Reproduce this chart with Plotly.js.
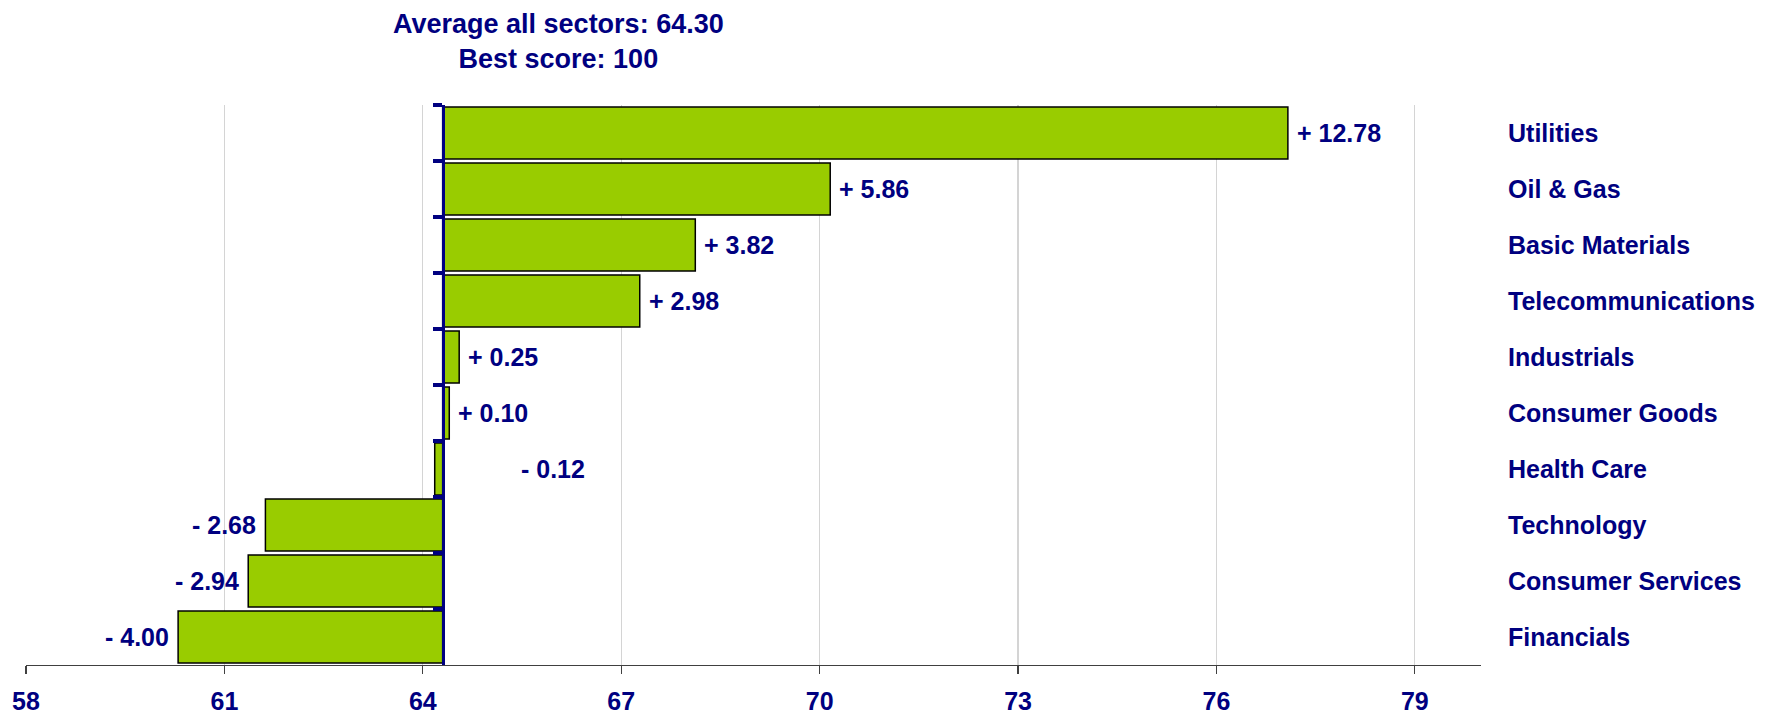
<!DOCTYPE html>
<html>
<head>
<meta charset="utf-8">
<script src="https://cdn.plot.ly/plotly-3.0.1.min.js"></script>
<style>html,body{margin:0;padding:0;background:#fff;}#chart{width:1773px;height:717px;}</style>
</head>
<body>
<div id="chart"></div>
<script>
// ---- data ----
const sectors = ["Utilities","Oil & Gas","Basic Materials","Telecommunications","Industrials",
                 "Consumer Goods","Health Care","Technology","Consumer Services","Financials"];
const deltas  = [12.78, 5.86, 3.82, 2.98, 0.25, 0.10, -0.12, -2.68, -2.94, -4.00];
const average = 64.30;
const bestScore = 100;
const xTicks = [58, 61, 64, 67, 70, 73, 76, 79];
const xMin = 58, xMax = 80;

const NAVY = "#000080";
const FONT = "Liberation Sans, Arial, sans-serif";

function fmt(d){ return (d >= 0 ? "+ " : "- ") + Math.abs(d).toFixed(2); }

const bars = {
  type: "bar", orientation: "h",
  y: sectors, x: deltas, base: average,
  marker: {color: "#99CC00", line: {color: "#000000", width: 1.5}},
  hoverinfo: "skip", showlegend: false
};
const axisHolder = {
  type: "scatter", mode: "markers", yaxis: "y2",
  y: sectors, x: sectors.map(() => average),
  marker: {opacity: 0}, hoverinfo: "skip", showlegend: false
};

const annotations = sectors.map((s, i) => {
  const d = deltas[i];
  const tinyNeg = d < 0 && Math.abs(d) < 0.2;
  return {
    xref: "x", yref: "y", y: s,
    x: tinyNeg ? average : average + d,
    text: fmt(d), showarrow: false,
    xanchor: (d >= 0 || tinyNeg) ? "left" : "right",
    xshift: tinyNeg ? 76 : (d >= 0 ? 7 : -7),
    font: {family: FONT, size: 25, color: NAVY, weight: "bold"}
  };
});

annotations.push({
  xref: "paper", yref: "paper", x: 0.366, y: 1.114,
  xanchor: "center", yanchor: "middle", showarrow: false,
  text: "Average all sectors: " + average.toFixed(2) + "<br>Best score: " + bestScore,
  font: {family: FONT, size: 27, color: NAVY, weight: "bold"}
});

const layout = {
  width: 1773, height: 717,
  margin: {l: 26, r: 292, t: 105, b: 52},
  paper_bgcolor: "#ffffff", plot_bgcolor: "#ffffff",
  bargap: 0.07,
  font: {family: FONT, color: NAVY},
  xaxis: {
    range: [xMin, xMax], tickmode: "array", tickvals: xTicks,
    ticktext: xTicks.map(String),
    showgrid: true, gridcolor: "#d4d4d4", gridwidth: 1.2,
    zeroline: false, showline: true, linecolor: "#404040", linewidth: 1.2,
    ticks: "outside", ticklen: 8, tickcolor: "#404040", tickwidth: 1.2,
    ticklabelstandoff: 6,
    tickfont: {family: FONT, size: 25, color: NAVY, weight: "bold"}
  },
  yaxis: {
    type: "category", categoryorder: "array", categoryarray: sectors,
    range: [sectors.length - 0.5, -0.5],
    side: "right", anchor: "x",
    showline: false, showgrid: false, zeroline: false, ticks: "",
    ticklabelstandoff: 26,
    tickfont: {family: FONT, size: 25, color: NAVY, weight: "bold"}
  },
  yaxis2: {
    type: "category", categoryorder: "array", categoryarray: sectors,
    range: [sectors.length - 0.5, -0.5],
    overlaying: "y", anchor: "free", side: "left",
    position: (average - xMin) / (xMax - xMin),
    showline: true, linecolor: NAVY, linewidth: 3.5,
    ticks: "outside", tickson: "boundaries", ticklen: 9, tickwidth: 3.5, tickcolor: NAVY,
    showticklabels: false, showgrid: false, zeroline: false
  },
  annotations: annotations
};

Plotly.newPlot("chart", [bars, axisHolder], layout, {displayModeBar: false, staticPlot: true});
</script>
</body>
</html>
